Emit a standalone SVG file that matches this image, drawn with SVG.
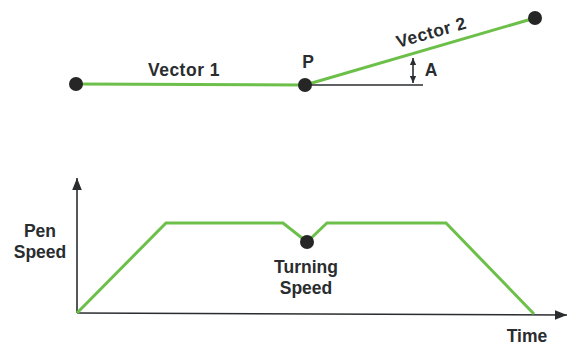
<svg xmlns="http://www.w3.org/2000/svg" width="568" height="345" viewBox="0 0 568 345">
<defs>
<style>
.t{font-family:"Liberation Sans",Arial,sans-serif;font-weight:bold;font-size:17.5px;fill:#2a2d2f}
.g{fill:none;stroke:#6cc04a;stroke-width:3;stroke-linejoin:miter}
.k{fill:none;stroke:#2a2d2f;stroke-width:1.6}
.d{fill:#262626}
</style>
<marker id="ah" viewBox="0 0 10 10" refX="10" refY="5" markerWidth="9" markerHeight="7" markerUnits="userSpaceOnUse" orient="auto-start-reverse">
<path d="M0,0.5 L10,5 L0,9.5 Z" fill="#2a2d2f"/>
</marker>
<marker id="ah2" viewBox="0 0 10 10" refX="10" refY="5" markerWidth="14" markerHeight="12" markerUnits="userSpaceOnUse" orient="auto">
<path d="M0,1 L10,5 L0,9 Z" fill="#2a2d2f"/>
</marker>
</defs>
<g id="connectors">
<line class="g" x1="76" y1="84" x2="305" y2="85"/>
<line class="g" x1="305" y1="85" x2="535" y2="18"/>
<line class="k" x1="305" y1="85" x2="423" y2="85"/>
<line class="k" x1="413" y1="58" x2="413" y2="83" marker-start="url(#ah)" marker-end="url(#ah)"/>
<line class="k" x1="77" y1="313" x2="77" y2="178" marker-end="url(#ah2)"/>
<line class="k" x1="77" y1="313" x2="567" y2="315" marker-end="url(#ah2)"/>
<polyline class="g" points="77,313 166,223 283,223 307,242 327,223 446,223 534,314"/>
</g>
<g id="node-start"><circle class="d" cx="76" cy="84" r="7"/></g>
<g id="node-P"><circle class="d" cx="305" cy="85" r="7"/><text class="t" x="308" y="68" text-anchor="middle">P</text></g>
<g id="node-end"><circle class="d" cx="535" cy="18" r="7"/></g>
<g id="node-turning"><circle class="d" cx="307" cy="242" r="7"/></g>
<text class="t" x="184" y="76" text-anchor="middle" style="letter-spacing:0.5px">Vector 1</text>
<text class="t" x="433" y="38" text-anchor="middle" transform="rotate(-16 433 38)" style="letter-spacing:0.5px">Vector 2</text>
<text class="t" x="431" y="76" text-anchor="middle">A</text>
<text class="t" x="40" y="237" text-anchor="middle">Pen</text>
<text class="t" x="40" y="258" text-anchor="middle">Speed</text>
<text class="t" x="306" y="273" text-anchor="middle">Turning</text>
<text class="t" x="306" y="294" text-anchor="middle">Speed</text>
<text class="t" x="527" y="342" text-anchor="middle">Time</text>
</svg>
